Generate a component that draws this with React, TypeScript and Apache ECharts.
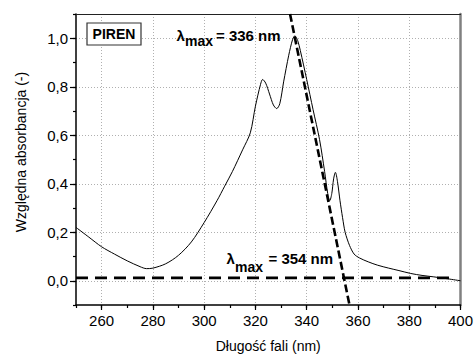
import React, { useEffect, useRef } from "react";
import * as echarts from "echarts";

// Spectrum (wavelength in nm, relative absorbance)
const wavelengths = [
  250, 255, 260, 265, 270, 275, 277.5, 280, 285, 290, 295, 300, 305, 308, 311, 315, 318, 320,
  322, 322.8, 324, 325.5, 327, 328.3, 329.5, 331, 333, 334.5, 335.4, 336.5, 337.5, 340, 342.5,
  345, 347, 348.2, 349, 349.8, 350.5, 351.2, 352, 353, 354, 355, 356.7, 358.5, 360.6, 364,
  367.7, 372, 376, 380.6, 385, 389.6, 395, 400,
];
const absorbance = [
  0.22, 0.18, 0.14, 0.11, 0.082, 0.058, 0.05, 0.052, 0.07, 0.105, 0.16, 0.24, 0.33, 0.39, 0.45,
  0.54, 0.61, 0.72, 0.81, 0.83, 0.815, 0.77, 0.725, 0.71, 0.73, 0.82, 0.93, 0.995, 1.01, 0.99,
  0.95, 0.83, 0.705, 0.583, 0.45, 0.36, 0.33, 0.36, 0.42, 0.447, 0.41, 0.33, 0.26, 0.2, 0.146,
  0.11, 0.094, 0.078, 0.064, 0.052, 0.042, 0.03, 0.022, 0.016, 0.008, 0.0,
];

// Tangent line (slope of the main band) and baseline
const tangentX = [333.5, 356.7];
const tangentY = [1.1, -0.1];
const baselineX = [250, 396.5];
const baselineY = [0.012, 0.012];

// Axis ticks
const xMajorTicks = [260, 280, 300, 320, 340, 360, 380, 400];
const yMajorTicks = [0, 0.2, 0.4, 0.6, 0.8, 1.0];

const FONT = "Liberation Sans, Arial, sans-serif";

const zip = (xs: number[], ys: number[]) => xs.map((x, i) => [x, ys[i]]);

export default function App() {
  const ref = useRef<HTMLDivElement>(null);

  useEffect(() => {
    if (!ref.current) return;
    const chart = echarts.init(ref.current, undefined, { renderer: "svg" });

    const gridLine = {
      show: true,
      lineStyle: { color: ["rgba(0,0,0,0)", "#b0b0b0"], type: [1, 2], width: 1 },
    };

    const option: any = {
      animation: false,
      backgroundColor: "#fff",
      grid: { left: 76, right: 13, top: 14, bottom: 51 },
      xAxis: [
        {
          type: "value",
          min: 250,
          max: 400,
          interval: 10,
          position: "bottom",
          axisLine: { onZero: false, lineStyle: { color: "#000", width: 1.5 } },
          axisTick: { show: true, length: 3, lineStyle: { color: "#000", width: 1.2 } },
          axisLabel: {
            color: "#000",
            fontSize: 15,
            fontFamily: FONT,
            margin: 8,
            formatter: (v: number) => (Math.round(v) % 20 === 0 ? String(Math.round(v)) : ""),
          },
          splitLine: gridLine,
          name: "Długość fali (nm)",
          nameLocation: "middle",
          nameGap: 34,
          nameTextStyle: { color: "#000", fontSize: 14, fontFamily: FONT },
        },
        {
          type: "value",
          min: 250,
          max: 400,
          position: "bottom",
          axisLine: { show: false, onZero: false },
          axisTick: {
            show: true,
            customValues: xMajorTicks,
            length: 5,
            lineStyle: { color: "#000", width: 1.2 },
          },
          axisLabel: { show: false },
          splitLine: { show: false },
        },
        {
          type: "value",
          min: 250,
          max: 400,
          position: "top",
          axisLine: { show: true, onZero: false, lineStyle: { color: "#222", width: 1 } },
          axisTick: { show: false },
          axisLabel: { show: false },
          splitLine: { show: false },
        },
      ],
      yAxis: [
        {
          type: "value",
          min: -0.1,
          max: 1.1,
          interval: 0.1,
          position: "left",
          axisLine: { show: true, onZero: false, lineStyle: { color: "#000", width: 1.5 } },
          axisTick: { show: true, length: 3, lineStyle: { color: "#000", width: 1.2 } },
          axisLabel: {
            color: "#000",
            fontSize: 15,
            fontFamily: FONT,
            margin: 8,
            formatter: (v: number) => {
              const r = Math.round(v * 10);
              return r >= 0 && r % 2 === 0 ? (r / 10).toFixed(1).replace(".", ",") : "";
            },
          },
          splitLine: gridLine,
        },
        {
          type: "value",
          min: -0.1,
          max: 1.1,
          position: "left",
          axisLine: { show: false, onZero: false },
          axisTick: {
            show: true,
            customValues: yMajorTicks,
            length: 6,
            lineStyle: { color: "#000", width: 1.2 },
          },
          axisLabel: { show: false },
          splitLine: { show: false },
        },
        {
          type: "value",
          min: -0.1,
          max: 1.1,
          position: "right",
          axisLine: { show: true, onZero: false, lineStyle: { color: "#808080", width: 2.5 } },
          axisTick: { show: false },
          axisLabel: { show: false },
          splitLine: { show: false },
        },
      ],
      series: [
        {
          type: "line",
          data: zip(wavelengths, absorbance),
          showSymbol: false,
          smooth: 0.3,
          lineStyle: { color: "#000", width: 1 },
          z: 3,
        },
        {
          type: "line",
          data: zip(baselineX, baselineY),
          showSymbol: false,
          lineStyle: { color: "#000", width: 2.6, type: [12, 7] },
          z: 4,
        },
        {
          type: "line",
          data: zip(tangentX, tangentY),
          showSymbol: false,
          lineStyle: { color: "#000", width: 2.6, type: [8, 3.5] },
          z: 4,
        },
      ],
      graphic: [
        {
          type: "text",
          x: 21,
          y: 152,
          rotation: Math.PI / 2,
          style: {
            text: "Względna absorbancja (-)",
            font: `14px ${FONT}`,
            fill: "#000",
            textAlign: "center",
            textVerticalAlign: "middle",
          },
        },
        {
          type: "rect",
          shape: { x: 87, y: 23, width: 54, height: 22 },
          style: { fill: "#fff", stroke: "#333", lineWidth: 1.2 },
          z: 10,
        },
        {
          type: "text",
          x: 114,
          y: 34,
          style: {
            text: "PIREN",
            font: `bold 14px ${FONT}`,
            fill: "#000",
            textAlign: "center",
            textVerticalAlign: "middle",
          },
          z: 11,
        },
        // λmax = 336 nm
        {
          type: "text",
          x: 176.5,
          y: 43,
          style: { text: "λ", font: `bold 15px ${FONT}`, fill: "#000", textVerticalAlign: "bottom" },
          z: 11,
        },
        {
          type: "text",
          x: 185,
          y: 48,
          style: { text: "max", font: `bold 14px ${FONT}`, fill: "#000", textVerticalAlign: "bottom" },
          z: 11,
        },
        {
          type: "text",
          x: 216,
          y: 43,
          style: { text: "= 336 nm", font: `bold 15px ${FONT}`, fill: "#000", textVerticalAlign: "bottom" },
          z: 11,
        },
        // λmax = 354 nm
        {
          type: "text",
          x: 226.5,
          y: 266,
          style: { text: "λ", font: `bold 15px ${FONT}`, fill: "#000", textVerticalAlign: "bottom" },
          z: 11,
        },
        {
          type: "text",
          x: 235,
          y: 274,
          style: { text: "max", font: `bold 14px ${FONT}`, fill: "#000", textVerticalAlign: "bottom" },
          z: 11,
        },
        {
          type: "text",
          x: 268.5,
          y: 266,
          style: { text: "= 354 nm", font: `bold 15px ${FONT}`, fill: "#000", textVerticalAlign: "bottom" },
          z: 11,
        },
      ],
    };

    chart.setOption(option);
    return () => chart.dispose();
  }, []);

  return (
    <div
      ref={ref}
      style={{ position: "fixed", left: 0, top: 0, width: 476, height: 358, background: "#fff" }}
    />
  );
}
